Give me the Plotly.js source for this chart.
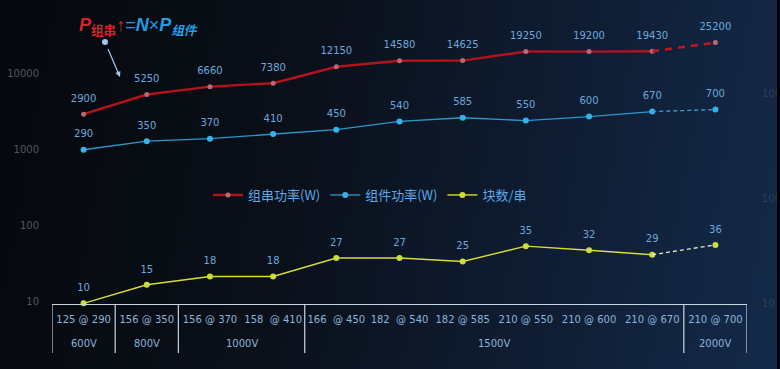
<!DOCTYPE html>
<html>
<head>
<meta charset="utf-8">
<script src="https://cdn.plot.ly/plotly-3.0.1.min.js"></script>
<style>
  html, body { margin:0; padding:0; width:780px; height:369px; overflow:hidden; }
  body { background: linear-gradient(100deg, #05080d 0%, #0a0f18 35%, #0f1d33 70%, #142a4a 100%); position:relative; }
  #chart { width:780px; height:369px; }
  #edge { position:absolute; right:0; top:0; width:3px; height:369px; background:#000; }
</style>
</head>
<body>
<div id="chart"></div>
<div id="edge"></div>
<script>
// ---- data ----
const categories = ['125 @ 290','156 @ 350','156 @ 370','158\u00a0 @ 410','166\u00a0 @ 450','182\u00a0 @ 540','182 @ 585','210 @ 550','210 @ 600','210 @ 670','210 @ 700'];
const stringPower = [2900, 5250, 6660, 7380, 12150, 14580, 14625, 19250, 19200, 19430, 25200];
const modulePower = [290, 350, 370, 410, 450, 540, 585, 550, 600, 670, 700];
const modulesPerString = [10, 15, 18, 18, 27, 27, 25, 35, 32, 29, 36];
const groupLabels = ['600V', '800V', '1000V', '1500V', '2000V'];
const groupSizes = [1, 1, 2, 6, 1];
const seriesNames = ['组串功率(W)', '组件功率(W)', '块数/串'];
const leftTicks = [10, 100, 1000, 10000];
const rightTicks = [10, 100, 1000];

const idx = categories.map((_, i) => i);
const last = idx.length - 1;
const labelColor = '#6aa9de';
const numFont = 'DejaVu Sans, Verdana, sans-serif';

function makeSeries(vals, name, yaxis, lineColor, lineWidth, markerColor, markerSize, dashColor, dashWidth, dash) {
  return [
    { // solid part
      x: idx.slice(0, last), y: vals.slice(0, last), name: name, yaxis: yaxis,
      type: 'scatter', mode: 'lines+markers',
      line: {color: lineColor, width: lineWidth},
      marker: {color: markerColor, size: markerSize},
      cliponaxis: false, hoverinfo: 'skip'
    },
    { // dashed forecast part
      x: idx.slice(last - 1), y: vals.slice(last - 1), yaxis: yaxis, showlegend: false,
      type: 'scatter', mode: 'lines',
      line: {color: dashColor, width: dashWidth, dash: dash},
      cliponaxis: false, hoverinfo: 'skip'
    },
    { // last point marker
      x: [idx[last]], y: [vals[last]], yaxis: yaxis, showlegend: false,
      type: 'scatter', mode: 'markers',
      marker: {color: markerColor, size: markerSize, line: {width: 0}},
      cliponaxis: false, hoverinfo: 'skip'
    },
    { // value labels
      x: idx, y: vals, yaxis: yaxis, showlegend: false,
      type: 'scatter', mode: 'markers+text',
      text: vals.map(String), textposition: 'top center',
      textfont: {family: numFont, size: 10, color: labelColor},
      marker: {color: 'rgba(0,0,0,0)', size: 14, line: {width: 0}},
      cliponaxis: false, hoverinfo: 'skip'
    }
  ];
}

const data = [
  ...makeSeries(stringPower, seriesNames[0], 'y', '#b5121c', 2.4, '#b66a78', 5, '#c8141e', 2.4, '7px,6px'),
  ...makeSeries(modulePower, seriesNames[1], 'y2', '#2a98cc', 1.3, '#36b2ea', 6, '#3a9fd6', 1.3, '4px,3px'),
  ...makeSeries(modulesPerString, seriesNames[2], 'y2', '#d6de34', 1.4, '#cfdc3e', 6, '#e4ecc4', 1.3, '4px,3px')
];

// group boundaries for bottom table
const bounds = [-0.5];
groupSizes.forEach(s => bounds.push(bounds[bounds.length - 1] + s));
const shapes = bounds.map(b => ({
  type: 'line', xref: 'x', yref: 'paper', x0: b, x1: b, y0: 0, y1: -0.1725,
  line: {color: '#c8d6e4', width: 1.2}
}));
shapes.push({
  type: 'circle', xref: 'paper', yref: 'paper', xsizemode: 'pixel', ysizemode: 'pixel',
  xanchor: (105 - 52) / 695, yanchor: (304 - 42) / 284, x0: -3, x1: 3, y0: -3, y1: 3,
  fillcolor: '#9cc8ec', line: {width: 0}
});

const annotations = groupLabels.map((g, i) => ({
  text: g, xref: 'x', yref: 'paper', x: (bounds[i] + bounds[i + 1]) / 2, y: -0.1408,
  showarrow: false, font: {family: numFont, size: 10, color: '#8ab4da'}, yanchor: 'middle'
}));
const red = '#d8252a', blue = '#1f9fe6';
annotations.push({
  xref: 'paper', yref: 'paper', x: (77 - 52) / 695, y: (304 - 27) / 284, xanchor: 'left', yanchor: 'middle',
  showarrow: false,
  font: {family: 'Liberation Sans, Noto Sans CJK SC, sans-serif', size: 18},
  text: "<span style='color:" + red + "'><b><i>P</i></b><sub><b>组串</b></sub><b>↑</b></span>" +
        "<span style='color:" + blue + "'>=<b><i>N</i></b>×<b><i>P</i></b><sub><b><i>组件</i></b></sub></span>"
});
annotations.push({
  xref: 'paper', yref: 'paper', x: (120 - 52) / 695, y: (304 - 77) / 284, text: ' ',
  showarrow: true, ax: -15, ay: -35, arrowhead: 2, arrowsize: 0.9, arrowwidth: 1.2, arrowcolor: '#a0c8ec',
  standoff: 0, startstandoff: 0
});

const layout = {
  width: 780, height: 369,
  margin: {l: 52, r: 33, t: 20, b: 65},
  paper_bgcolor: 'rgba(0,0,0,0)', plot_bgcolor: 'rgba(0,0,0,0)',
  showlegend: true,
  legend: {
    orientation: 'h', x: (208 - 52) / 695, xanchor: 'left', y: (304 - 195) / 284, yanchor: 'middle',
    font: {family: 'Noto Sans CJK SC, sans-serif', size: 13, color: '#5aa8e8'},
    bgcolor: 'rgba(0,0,0,0)', itemwidth: 30, traceorder: 'normal'
  },
  xaxis: {
    range: [-0.5, last + 0.5], tickvals: idx, ticktext: categories,
    showgrid: false, zeroline: false, showline: true, linecolor: '#c8d6e4', linewidth: 1.2,
    ticks: 'outside', ticklen: 6, tickcolor: 'rgba(0,0,0,0)',
    tickfont: {family: numFont, size: 10, color: '#8ab4da'}, fixedrange: true
  },
  yaxis: {
    type: 'log', range: [0.9711, 4.698], tickvals: leftTicks, ticktext: leftTicks.map(String),
    showgrid: false, zeroline: false, showline: false,
    ticks: 'outside', ticklen: 10, tickcolor: 'rgba(0,0,0,0)',
    tickfont: {family: numFont, size: 10, color: '#50575f'}, fixedrange: true
  },
  yaxis2: {
    type: 'log', range: [0.9933, 3.698], overlaying: 'y', side: 'right',
    tickvals: rightTicks, ticktext: rightTicks.map(String),
    showgrid: false, zeroline: false, showline: false,
    ticks: 'outside', ticklen: 12, tickcolor: 'rgba(0,0,0,0)',
    tickfont: {family: numFont, size: 10, color: '#2e3f55'}, fixedrange: true
  },
  shapes: shapes,
  annotations: annotations
};

Plotly.newPlot('chart', data, layout, {staticPlot: true, displayModeBar: false});
</script>
</body>
</html>
